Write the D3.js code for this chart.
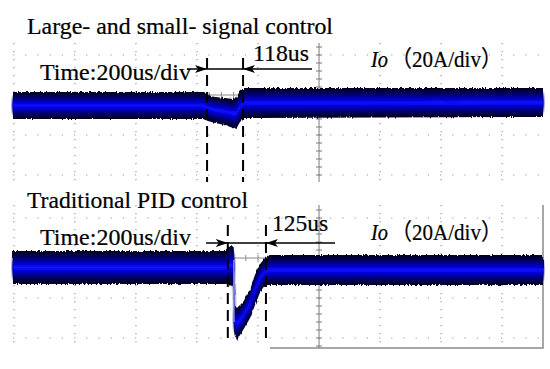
<!DOCTYPE html>
<html><head><meta charset="utf-8">
<script src="https://cdn.jsdelivr.net/npm/d3@7"></script>
<style>html,body{margin:0;padding:0;background:#fff;}svg{display:block;}</style>
</head><body>
<script>
// ---------- data ----------
const panelTitles = ["Large- and small- signal control", "Traditional PID control"];
const timebaseLabel = "Time:200us/div";
const channelName = "Io";
const channelScale = "（20A/div）";
const settleLabels = ["118us", "125us"];
// time (us) relative to centre graticule, current envelope (A) relative to panel reference
const topTime  = [-1003, -380, -364, -341, -308, -282, -272, -259, -246, 734];
const topUpper = [21.5, 21.5, 20, 19, 18.5, 18, 18.5, 22, 23.5, 23.5];
const topLower = [8, 8, 7, 6, 5, 3.5, 3, 6.5, 8.5, 9];
const botTime  = [-1003, -305, -295, -285, -280, -277, -269, -249, -226, -210, -193, -177, -161, 734];
const botUpper = [23.5, 23.5, 25.5, 26.5, 26, -3.5, -5, -2, 4, 11.5, 17, 20, 21.5, 21.5];
const botLower = [7, 7, 7, 6.5, 5, -18.5, -21, -16, -10, -3.5, 3, 6.5, 6.5, 6.5];
const botDropEdge = {t: -279, from: 19, to: -12};
const topMarkers = [-367, -249];   // 118 us
const botMarkers = [-299, -174];   // 125 us
const timeDivs = [-1000, -800, -600, -400, -200, 0, 200, 400, 600];
const ampDivs = [40, 20, 0, -20];

// ---------- layout ----------
const W = 550, H = 369;
const svg = d3.select("body").append("svg").attr("width", W).attr("height", H);
const defs = svg.append("defs");
defs.append("filter").attr("id","soft").attr("x","-5%").attr("y","-50%").attr("width","110%").attr("height","200%")
  .append("feGaussianBlur").attr("stdDeviation", 1.2);
const rough = defs.append("filter").attr("id","rough").attr("x","-2%").attr("y","-30%").attr("width","104%").attr("height","160%");
rough.append("feTurbulence").attr("type","fractalNoise").attr("baseFrequency","0.8 0.05").attr("numOctaves",2).attr("seed",3).attr("result","n");
rough.append("feDisplacementMap").attr("in","SourceGraphic").attr("in2","n").attr("scale",3.5)
  .attr("xChannelSelector","R").attr("yChannelSelector","G");
defs.append("marker").attr("id","arrR").attr("viewBox","0 0 12 8").attr("refX",12).attr("refY",4)
  .attr("markerWidth",12).attr("markerHeight",8).attr("markerUnits","userSpaceOnUse").attr("orient","auto")
  .append("path").attr("d","M0,0 L12,4 L0,8 L3,4 Z").attr("fill","#000");

const x = d3.scaleLinear().domain([-1003, 734]).range([13, 543]);

const panels = [
  {title: panelTitles[0], time: topTime, upper: topUpper, lower: topLower, markers: topMarkers,
   label: settleLabels[0], y: d3.scaleLinear().domain([-23.5, 46]).range([182, 43]),
   titleY: 34, timeY: 80, arrowY: 69, arrowL: 187, arrowR: 312, labelX: 253, labelY: 61,
   chanY: 67, dashTop: 58, dashBot: 182, titleLen: 306, border: false},
  {title: panelTitles[1], time: botTime, upper: botUpper, lower: botLower, markers: botMarkers,
   label: settleLabels[1], y: d3.scaleLinear().domain([-25, 46.5]).range([348, 205]),
   titleY: 208, timeY: 245, arrowY: 243, arrowL: 206, arrowR: 335, labelX: 272, labelY: 231,
   chanY: 240, dashTop: 225, dashBot: 344, titleLen: 221, border: true}
];

const serif = "'Liberation Serif','Times New Roman',serif";
function styleText(t) {
  return t.attr("fill", "#000").attr("stroke", "#000").attr("stroke-width", 0.2);
}

panels.forEach((p, pi) => {
  const g = svg.append("g");
  const y = p.y;
  const [y0, y1] = y.range(); // bottom, top
  // dotted graticule
  timeDivs.filter(t => t !== 0).forEach(t => {
    g.append("line").attr("x1", x(t)).attr("x2", x(t)).attr("y1", y1).attr("y2", y0)
      .attr("stroke", "#9a9a9a").attr("stroke-width", 1.2).attr("stroke-dasharray", "1.2,6.8");
  });
  ampDivs.filter(a => a !== 20).forEach(a => {
    g.append("line").attr("x1", x(-1003)).attr("x2", x(734) - 3).attr("y1", y(a)).attr("y2", y(a))
      .attr("stroke", "#9a9a9a").attr("stroke-width", 1.2).attr("stroke-dasharray", "1.2,11");
  });
  // centre axes with minor ticks
  g.append("line").attr("x1", x(0)).attr("x2", x(0)).attr("y1", y1).attr("y2", y0)
    .attr("stroke", "#7a7a7a").attr("stroke-width", 1);
  d3.range(-24, 47, 4).forEach(a => {
    if (y(a) >= y1 && y(a) <= y0)
      g.append("line").attr("x1", x(0) - 3).attr("x2", x(0) + 3).attr("y1", y(a)).attr("y2", y(a))
        .attr("stroke", "#7a7a7a").attr("stroke-width", 1);
  });
  g.append("line").attr("x1", x(-1003)).attr("x2", x(734)).attr("y1", y(20)).attr("y2", y(20))
    .attr("stroke", "#8a8a8a").attr("stroke-width", 1);
  d3.range(-1000, 735, 40).forEach(t => {
    g.append("line").attr("x1", x(t)).attr("x2", x(t)).attr("y1", y(20) - 3).attr("y2", y(20) + 3)
      .attr("stroke", "#8a8a8a").attr("stroke-width", 1);
  });
  if (p.border) {
    g.append("path").attr("d", `M${x(734)},${y1} L${x(734)},${y0} L270,${y0}`)
      .attr("fill", "none").attr("stroke", "#8a8a8a").attr("stroke-width", 1.5);
  }

  // signal envelope
  const pts = p.time.map((t, i) => ({t, u: p.upper[i], l: p.lower[i]}));
  const layers = [
    {f: 1.00, c: "#000028", filt: "url(#rough)"},
    {f: 0.86, c: "#00003c", filt: null},
    {f: 0.72, c: "#00005e", filt: "url(#soft)"},
    {f: 0.56, c: "#000088", filt: "url(#soft)"},
    {f: 0.40, c: "#0000b4", filt: "url(#soft)"},
    {f: 0.24, c: "#0000e0", filt: "url(#soft)"},
    {f: 0.10, c: "#1414ff", filt: "url(#soft)"}
  ];
  const band = g.append("g");
  layers.forEach(L => {
    const area = d3.area()
      .x(d => x(d.t))
      .y0(d => y((d.u + d.l) / 2 - (d.u - d.l) / 2 * L.f))
      .y1(d => y((d.u + d.l) / 2 + (d.u - d.l) / 2 * L.f));
    band.append("path").datum(pts).attr("d", area).attr("fill", L.c)
      .attr("filter", L.filt);
  });
  if (pi === 1) {
    g.append("line").attr("x1", x(botDropEdge.t)).attr("x2", x(botDropEdge.t))
      .attr("y1", y(botDropEdge.from)).attr("y2", y(botDropEdge.to))
      .attr("stroke", "#8c8cf0").attr("stroke-width", 1.5);
  }

  // dashed settle markers
  p.markers.forEach(t => {
    g.append("line").attr("x1", x(t)).attr("x2", x(t)).attr("y1", p.dashTop).attr("y2", p.dashBot)
      .attr("stroke", "#000").attr("stroke-width", 2).attr("stroke-dasharray", "11,6");
  });
  // arrows
  g.append("line").attr("x1", p.arrowL).attr("x2", x(p.markers[0])).attr("y1", p.arrowY).attr("y2", p.arrowY)
    .attr("stroke", "#000").attr("stroke-width", 1.5).attr("marker-end", "url(#arrR)");
  g.append("line").attr("x1", x(p.markers[0])).attr("x2", x(p.markers[1])).attr("y1", p.arrowY).attr("y2", p.arrowY)
    .attr("stroke", "#000").attr("stroke-width", 1.5);
  g.append("line").attr("x1", p.arrowR).attr("x2", x(p.markers[1])).attr("y1", p.arrowY).attr("y2", p.arrowY)
    .attr("stroke", "#000").attr("stroke-width", 1.5).attr("marker-end", "url(#arrR)");

  // texts
  styleText(g.append("text").attr("x", 27).attr("y", p.titleY).text(p.title)
    .attr("font-family", serif).attr("font-size", 23)
    .attr("textLength", p.titleLen).attr("lengthAdjust", "spacingAndGlyphs"));
  styleText(g.append("text").attr("x", 40).attr("y", p.timeY).text(timebaseLabel)
    .attr("font-family", serif).attr("font-size", 23)
    .attr("textLength", 151).attr("lengthAdjust", "spacingAndGlyphs"));
  styleText(g.append("text").attr("x", p.labelX).attr("y", p.labelY).text(p.label)
    .attr("font-family", serif).attr("font-size", 23)
    .attr("textLength", 56).attr("lengthAdjust", "spacingAndGlyphs"));
  styleText(g.append("text").attr("x", 371).attr("y", p.chanY).text(channelName)
    .attr("font-family", serif).attr("font-size", 23).attr("font-style", "italic")
    .attr("textLength", 17).attr("lengthAdjust", "spacingAndGlyphs"));
  styleText(g.append("text").attr("x", 391).attr("y", p.chanY).text(channelScale)
    .attr("font-family", "'Liberation Serif','Noto Sans CJK SC',serif").attr("font-size", 23)
    .attr("textLength", 111).attr("lengthAdjust", "spacingAndGlyphs"));
});
</script>
</body></html>
